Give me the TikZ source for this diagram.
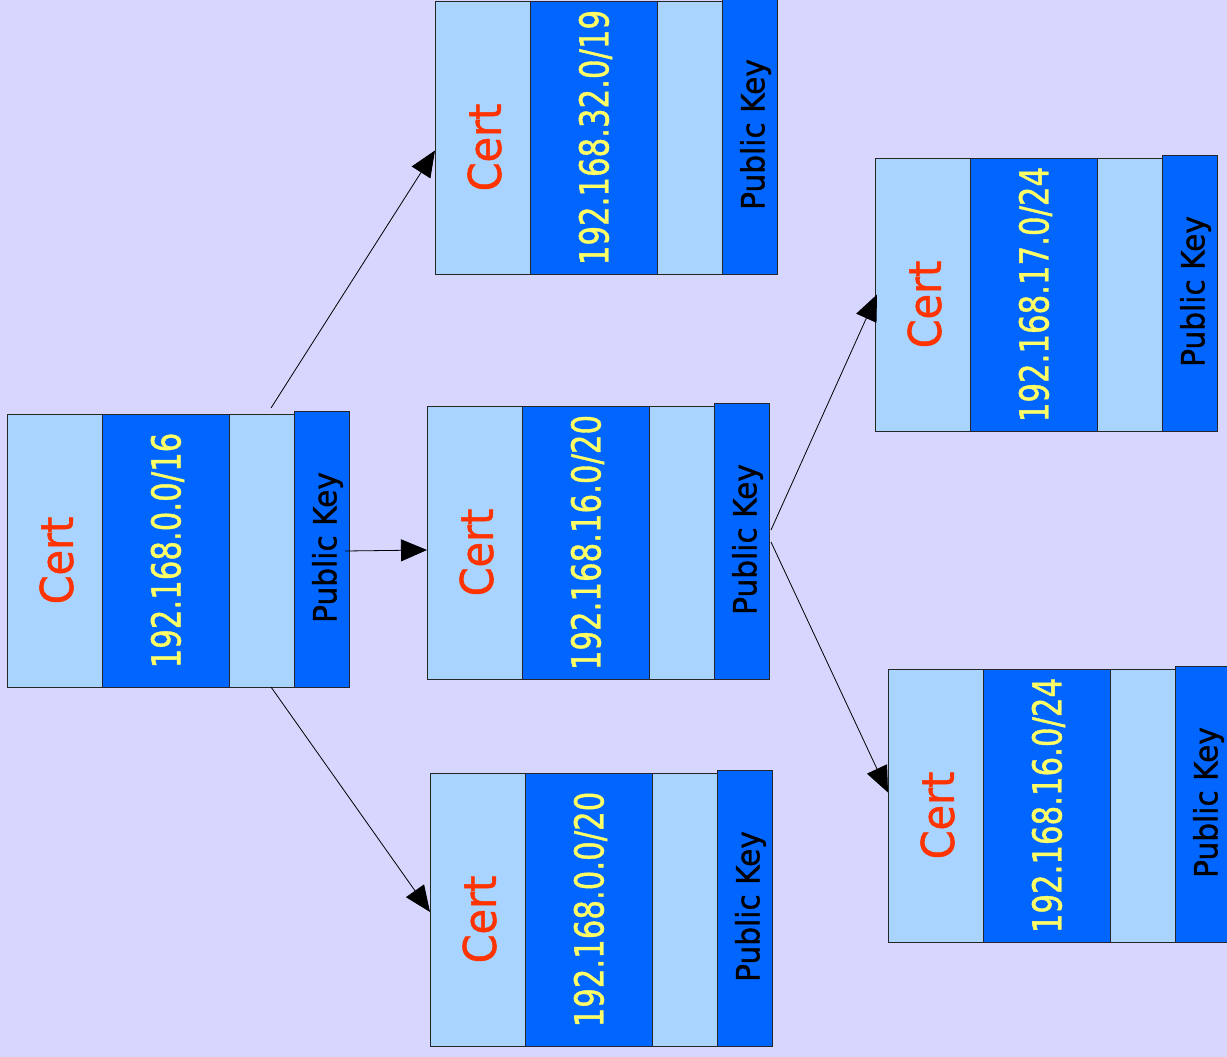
\documentclass[tikz,border=0pt]{standalone}
\usepackage{fontspec}
\usetikzlibrary{arrows.meta}
\newfontfamily\labelfont{DejaVu Sans}
\newfontfamily\heavylabelfont[FakeBold=1.2]{DejaVu Sans}

\definecolor{bgcol}{RGB}{214,214,254}
\definecolor{lightcol}{RGB}{168,212,255}
\definecolor{darkcol}{RGB}{0,102,255}
\definecolor{ipcol}{RGB}{255,255,102}
\definecolor{certcol}{RGB}{255,51,0}

\tikzset{
  boxbase/.style={anchor=north west, inner sep=0pt, outer sep=0pt, line width=0.9pt, draw=black!85},
  lightbox/.style={boxbase, fill=lightcol},
  darkbox/.style={boxbase, fill=darkcol},
  certtext/.style={rotate=90, inner sep=0pt, text=certcol,
    font=\heavylabelfont\fontsize{45}{50}\selectfont},
  iptext/.style={rotate=90, inner sep=0pt, text=ipcol,
    font=\heavylabelfont\fontsize{40}{46}\selectfont},
  keytext/.style={rotate=90, inner sep=0pt, text=black,
    font=\heavylabelfont\fontsize{32}{38}\selectfont},
  link/.style={line width=0.8pt, draw=black,
    -{Triangle[length=26pt, width=22pt]}}
}

% one certificate: light body, address strip, public key strip
\newcommand\certblock[4]{%
  \begin{scope}[shift={(#2,#3)}]
    \node[lightbox, minimum width=287pt, minimum height=273pt] (#1-l) at (0,0) {};
    \node[darkbox, minimum width=127pt, minimum height=273pt] (#1-d) at (95,0) {};
    \node[darkbox, minimum width=55pt, minimum height=276pt] (#1-k) at (287,-3) {};
    \node[certtext] (#1-c) at (49.5,146.5) {\scalebox{0.92}[1]{Cert}};
    \node[iptext] (#1-i) at (160.5,136.5) {\scalebox{0.77}[1]{#4}};
    \node[keytext] (#1-t) at (320.5,133.5) {\scalebox{0.925}[1]{Public Key}};
  \end{scope}}

\begin{document}
\begin{tikzpicture}[x=1pt, y=-1pt]
  \useasboundingbox (0,0) rectangle (1227,1057);
  \clip (0,0) rectangle (1227,1057);
  \fill[bgcol] (0,0) rectangle (1227,1057);

  \certblock{A}{7}{414}{192.168.0.0/16}
  \certblock{B}{435}{1}{192.168.32.0/19}
  \certblock{C}{427}{406}{192.168.16.0/20}
  \certblock{D}{430}{773}{192.168.0.0/20}
  \certblock{E}{875}{158}{192.168.17.0/24}
  \certblock{F}{888}{669}{192.168.16.0/24}

  % delegation links
  \draw[link] ([shift={(-23,-6)}]A-l.north east) -- ([shift={(0,13)}]B-l.west);
  \draw[link] ([shift={(-4,2)}]A-k.east) -- ([shift={(0,7.5)}]C-l.west);
  \draw[link] ([shift={(-23,0)}]A-l.south east) -- ([shift={(0,2.5)}]D-l.west);
  \draw[link] ([shift={(2,-11)}]C-k.east) -- ([shift={(2,0)}]E-l.west);
  \draw[link] ([shift={(2,1)}]C-k.east) -- ([shift={(0,-13)}]F-l.west);
\end{tikzpicture}
\end{document}
